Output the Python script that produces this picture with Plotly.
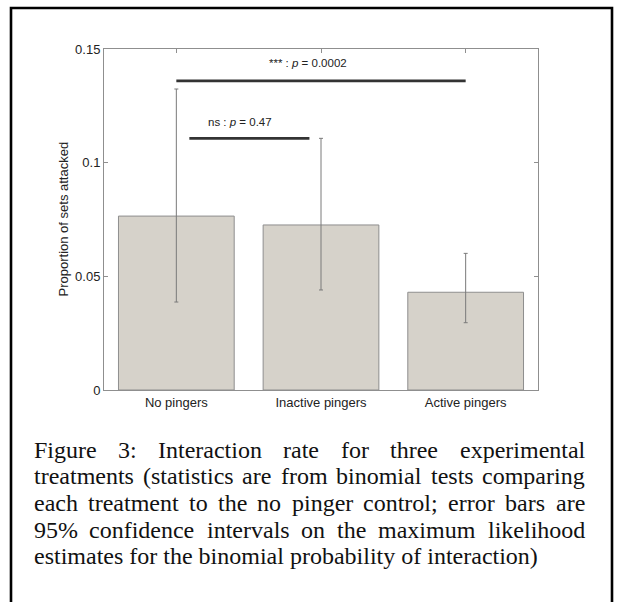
import plotly.graph_objects as go

# ---- data ----
categories = ["No pingers", "Inactive pingers", "Active pingers"]
proportion = [0.0765, 0.0726, 0.0430]
ci_low = [0.0387, 0.0440, 0.0296]
ci_high = [0.1324, 0.1107, 0.0601]
x_pos = [0, 1, 2]
ytick_vals = [0, 0.05, 0.1, 0.15]
ytick_text = ["0", "0.05", "0.1", "0.15"]

sig_long_x = [0, 2]
sig_long_y = 0.136
sig_long_label = "*** : <i>p</i> = 0.0002"
sig_short_x = [0.09, 0.92]
sig_short_y = 0.1107
sig_short_label = "ns : <i>p</i> = 0.47"

caption_lines = [
    "Figure 3: Interaction rate for three experimental",
    "treatments (statistics are from binomial tests comparing",
    "each treatment to the no pinger control; error bars are",
    "95% confidence intervals on the maximum likelihood",
    "estimates for the binomial probability of interaction)",
]

# ---- layout geometry (pixels) ----
W, H = 618, 602
PL, PR, PT, PB = 104, 538, 49, 390
pw, ph = PR - PL, PB - PT


def px_x(px):
    return (px - PL) / pw


def px_y(py):
    return (PB - py) / ph


SANS = "Arial, Liberation Sans, sans-serif"
SERIF = "Times New Roman, Liberation Serif, serif"
TXT = "#222222"
AX = "#8f8f8f"

err_plus = [h - v for h, v in zip(ci_high, proportion)]
err_minus = [v - l for v, l in zip(proportion, ci_low)]

fig = go.Figure()
fig.add_trace(go.Bar(
    x=x_pos, y=proportion, width=0.8,
    marker=dict(color="#d6d2ca", line=dict(color="#8e8e8e", width=1)),
    error_y=dict(type="data", symmetric=False, array=err_plus, arrayminus=err_minus,
                 color="#7a7a7a", thickness=1, width=2),
    showlegend=False,
))
fig.add_trace(go.Scatter(x=sig_long_x, y=[sig_long_y] * 2, mode="lines",
                         line=dict(color="#333333", width=2.6), showlegend=False))
fig.add_trace(go.Scatter(x=sig_short_x, y=[sig_short_y] * 2, mode="lines",
                         line=dict(color="#333333", width=2.6), showlegend=False))

annotations = [
    dict(x=0.91, y=0.1437, xref="x", yref="y", text=sig_long_label, showarrow=False,
         font=dict(family=SANS, size=11.5, color=TXT)),
    dict(x=0.438, y=0.118, xref="x", yref="y", text=sig_short_label, showarrow=False,
         font=dict(family=SANS, size=11.5, color=TXT)),
    dict(x=px_x(63), y=0.5, xref="paper", yref="paper", text="Proportion of sets attacked",
         textangle=-90, showarrow=False, xanchor="center", yanchor="middle",
         font=dict(family=SANS, size=13, color=TXT)),
]

# Times New Roman advance widths (per 1000 em)
TW = {' ': 250, '%': 833, '(': 333, ')': 333, ',': 250, '.': 250, ':': 278, ';': 278,
      'F': 556, 'I': 333,
      'a': 444, 'b': 500, 'c': 444, 'd': 500, 'e': 444, 'f': 333, 'g': 500, 'h': 500,
      'i': 278, 'j': 278, 'k': 500, 'l': 278, 'm': 778, 'n': 500, 'o': 500, 'p': 500,
      'q': 500, 'r': 333, 's': 389, 't': 278, 'u': 500, 'v': 500, 'w': 722, 'x': 500,
      'y': 500, 'z': 444}


def tw(s, size):
    return sum(TW.get(ch, 500) for ch in s) * size / 1000.0


CAP_SIZE = 24
CAP_LEFT, CAP_RIGHT = 32.5, 584
base0, lead = 457.7, 26.7
for i, line in enumerate(caption_lines):
    yc = base0 + i * lead - 0.34 * CAP_SIZE
    if i == len(caption_lines) - 1:
        annotations.append(dict(x=px_x(CAP_LEFT), y=px_y(yc), xref="paper", yref="paper",
                                text=line, showarrow=False, xanchor="left", yanchor="middle",
                                borderpad=0, font=dict(family=SERIF, size=CAP_SIZE, color="#111")))
        continue
    words = line.split(" ")
    total = sum(tw(w, CAP_SIZE) for w in words)
    gap = (CAP_RIGHT - CAP_LEFT - total) / (len(words) - 1)
    xcur = CAP_LEFT
    for w in words:
        annotations.append(dict(x=px_x(xcur), y=px_y(yc), xref="paper", yref="paper",
                                text=w, showarrow=False, xanchor="left", yanchor="middle",
                                borderpad=0, font=dict(family=SERIF, size=CAP_SIZE, color="#111")))
        xcur += tw(w, CAP_SIZE) + gap

shapes = [dict(type="rect", xref="paper", yref="paper",
               x0=px_x(11), x1=px_x(612), y0=px_y(8), y1=px_y(640),
               line=dict(color="#000000", width=2.6), fillcolor="rgba(0,0,0,0)")]

fig.update_layout(
    width=W, height=H,
    margin=dict(l=PL, r=W - PR, t=PT, b=H - PB, pad=0),
    paper_bgcolor="white", plot_bgcolor="white",
    bargap=0.2,
    annotations=annotations, shapes=shapes,
    xaxis=dict(range=[-0.5, 2.5], tickvals=x_pos, ticktext=categories,
               ticks="inside", ticklen=4, tickcolor=AX, showline=True, linecolor=AX,
               linewidth=1, mirror="allticks", showgrid=False, zeroline=False,
               layer="below traces", tickfont=dict(family=SANS, size=13, color=TXT)),
    yaxis=dict(range=[0, 0.15], tickvals=ytick_vals, ticktext=ytick_text,
               ticks="inside", ticklen=4, tickcolor=AX, showline=True, linecolor=AX,
               linewidth=1, mirror="allticks", showgrid=False, zeroline=False,
               tickfont=dict(family=SANS, size=13, color=TXT)),
)

fig.write_html("out.html", config={"displayModeBar": False},
               post_script="document.body.style.margin='0';document.body.style.overflow='hidden';")
